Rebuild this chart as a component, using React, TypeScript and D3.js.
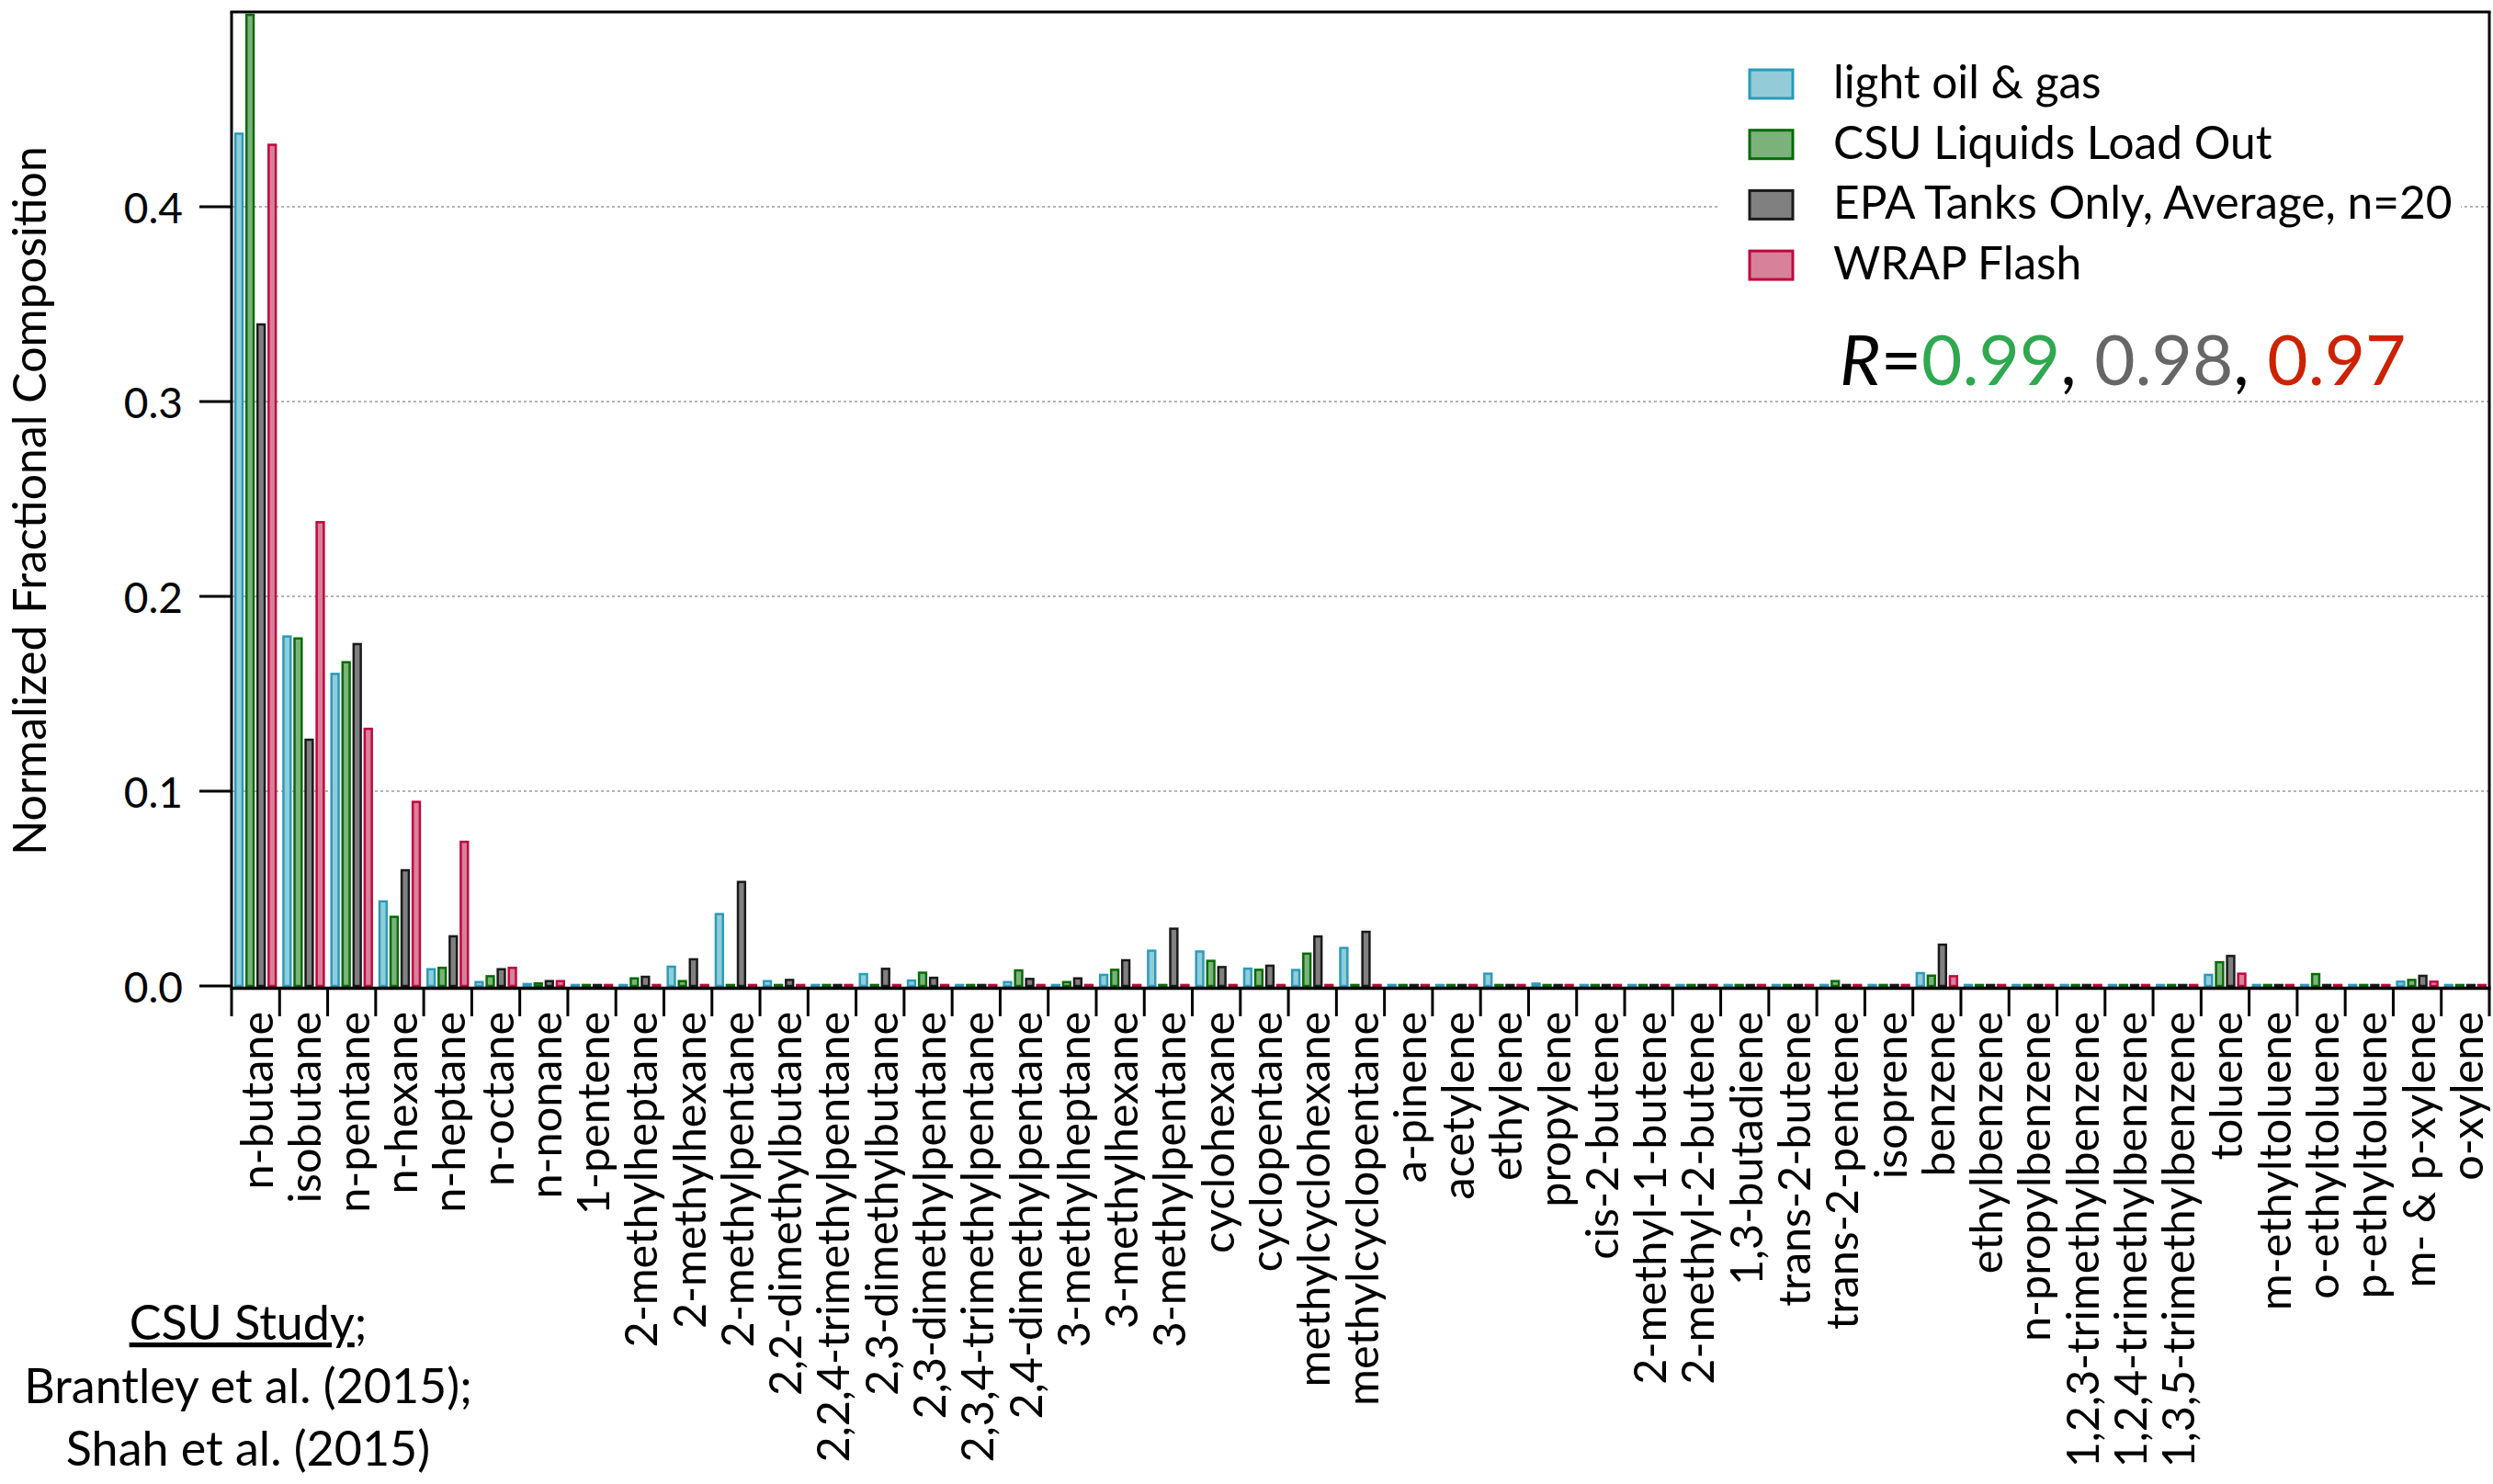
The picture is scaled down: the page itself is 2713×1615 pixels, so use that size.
import React from "react";
import * as d3 from "d3";

const categories = [
  "n-butane", "isobutane", "n-pentane", "n-hexane", "n-heptane", "n-octane", "n-nonane",
  "1-pentene", "2-methylheptane", "2-methylhexane", "2-methylpentane", "2,2-dimethylbutane",
  "2,2,4-trimethylpentane", "2,3-dimethylbutane", "2,3-dimethylpentane", "2,3,4-trimethylpentane",
  "2,4-dimethylpentane", "3-methylheptane", "3-methylhexane", "3-methylpentane", "cyclohexane",
  "cyclopentane", "methylcyclohexane", "methylcyclopentane", "a-pinene", "acetylene", "ethylene",
  "propylene", "cis-2-butene", "2-methyl-1-butene", "2-methyl-2-butene", "1,3-butadiene",
  "trans-2-butene", "trans-2-pentene", "isoprene", "benzene", "ethylbenzene", "n-propylbenzene",
  "1,2,3-trimethylbenzene", "1,2,4-trimethylbenzene", "1,3,5-trimethylbenzene", "toluene",
  "m-ethyltoluene", "o-ethyltoluene", "p-ethyltoluene", "m- & p-xylene", "o-xylene",
];

const lightOilGas = [
  0.4375, 0.1794, 0.1602, 0.0434, 0.0086, 0.002, 0.001,
  0.0005, 0.0005, 0.0099, 0.0369, 0.0025,
  0.0005, 0.0061, 0.0028, 0.0005,
  0.002, 0.0005, 0.0057, 0.0181, 0.0177,
  0.0089, 0.0082, 0.0195, 0.0005, 0.0005, 0.0063,
  0.0012, 0.0005, 0.0005, 0.0005, 0.0005,
  0.0005, 0.0005, 0.0005, 0.0066, 0.0005, 0.0005,
  0.0005, 0.0005, 0.0005, 0.0057,
  0.0005, 0.0005, 0.0005, 0.0022, 0.0005,
];

const csuLoadOut = [
  0.4985, 0.1784, 0.1662, 0.0355, 0.0093, 0.005, 0.0013,
  0.0005, 0.0039, 0.0025, 0.0005, 0.0005,
  0.0005, 0.0005, 0.0068, 0.0005,
  0.008, 0.002, 0.0083, 0.0005, 0.0129,
  0.0083, 0.0166, 0.0005, 0.0005, 0.0005, 0.0005,
  0.0005, 0.0005, 0.0005, 0.0005, 0.0005,
  0.0005, 0.0025, 0.0005, 0.0053, 0.0005, 0.0005,
  0.0005, 0.0005, 0.0005, 0.0122,
  0.0005, 0.0061, 0.0005, 0.0031, 0.0005,
];

const epaTanks = [
  0.3396, 0.1264, 0.1755, 0.0594, 0.0255, 0.0086, 0.0025,
  0.0005, 0.0047, 0.0137, 0.0534, 0.0031,
  0.0005, 0.0088, 0.0042, 0.0005,
  0.0036, 0.0039, 0.0132, 0.0294, 0.0097,
  0.0104, 0.0254, 0.0278, 0.0005, 0.0005, 0.0005,
  0.0005, 0.0005, 0.0005, 0.0005, 0.0005,
  0.0005, 0.0005, 0.0005, 0.0212, 0.0005, 0.0005,
  0.0005, 0.0005, 0.0005, 0.0154,
  0.0005, 0.0005, 0.0005, 0.0052, 0.0005,
];

const wrapFlash = [
  0.4318, 0.2381, 0.132, 0.0945, 0.074, 0.0093, 0.0025,
  0.0005, 0.0005, 0.0005, 0.0005, 0.0005,
  0.0005, 0.0005, 0.0005, 0.0005,
  0.0005, 0.0005, 0.0005, 0.0005, 0.0005,
  0.0005, 0.0005, 0.0005, 0.0005, 0.0005, 0.0005,
  0.0005, 0.0005, 0.0005, 0.0005, 0.0005,
  0.0005, 0.0005, 0.0005, 0.005, 0.0005, 0.0005,
  0.0005, 0.0005, 0.0005, 0.0063,
  0.0005, 0.0005, 0.0005, 0.0022, 0.0005,
];

const seriesNames = [
  "light oil & gas",
  "CSU Liquids Load Out",
  "EPA Tanks Only, Average, n=20",
  "WRAP Flash",
];
const seriesValues = [lightOilGas, csuLoadOut, epaTanks, wrapFlash];
const seriesFill = ["#93cbd9", "#7bb27b", "#808080", "#d8819b"];
const seriesStroke = ["#2a9bbb", "#066b06", "#1a1a1a", "#c1063f"];

const yTicks = [0, 0.1, 0.2, 0.3, 0.4];
const gridTicks = [0.1, 0.2, 0.3, 0.4];

const W = 2713;
const H = 1615;
const FONT = "Lato, 'Open Sans', sans-serif";

export default function App() {
  const left = 252, right = 2709, top = 13, bottom = 1073;
  const x0 = d3.scaleBand<string>().domain(categories).range([left, right]).padding(0);
  const x1 = d3
    .scaleBand<string>()
    .domain(seriesNames)
    .range([0, x0.bandwidth()])
    .paddingInner(0.145)
    .paddingOuter(0.243);
  const y = d3.scaleLinear().domain([0, 0.5]).range([bottom, top]);
  const fmt = d3.format(".1f");
  const sw = 2.5;
  const bw = x1.bandwidth();
  const axisY = bottom + 2.5;

  const boundaries = d3.range(categories.length + 1).map((k) => left + k * x0.step());

  return (
    <svg
      width={W}
      height={H}
      style={{ position: "absolute", left: 0, top: 0, display: "block", background: "#fff" }}
      fontFamily={FONT}
    >
      <rect x={0} y={0} width={W} height={H} fill="#fff" />
      {/* grid */}
      {gridTicks.map((t) => (
        <line
          key={t}
          x1={left}
          x2={right}
          y1={y(t)}
          y2={y(t)}
          stroke="#9a9a9a"
          strokeWidth={1.6}
          strokeDasharray="3,3"
        />
      ))}
      {/* legend background */}
      <rect x={1870} y={50} width={808} height={290} fill="#fff" />
      {/* bars */}
      {categories.map((c, i) => (
        <g key={c} transform={`translate(${x0(c)},0)`}>
          {seriesNames.map((s, j) => {
            const v = seriesValues[j][i];
            const yt = y(Math.max(v, 0));
            const yb = y(0);
            return (
              <rect
                key={s}
                x={(x1(s) as number) + sw / 2}
                y={yt}
                width={bw - sw}
                height={Math.max(yb - yt, 0.5)}
                fill={seriesFill[j]}
                stroke={seriesStroke[j]}
                strokeWidth={sw}
              />
            );
          })}
        </g>
      ))}
      {/* frame */}
      <line x1={left - 1.5} x2={right + 1.5} y1={top} y2={top} stroke="#000" strokeWidth={3} />
      <line x1={left} x2={left} y1={top} y2={axisY} stroke="#000" strokeWidth={3} />
      <line x1={right} x2={right} y1={top} y2={axisY} stroke="#000" strokeWidth={3} />
      <line x1={left - 1.5} x2={right + 1.5} y1={axisY} y2={axisY} stroke="#000" strokeWidth={3.5} />
      {/* y ticks */}
      {yTicks.map((t) => (
        <g key={t}>
          <line x1={217} x2={left} y1={y(t)} y2={y(t)} stroke="#000" strokeWidth={3} />
          <text x={199} y={y(t)} textAnchor="end" dominantBaseline="central" fontSize={46} fill="#000">
            {fmt(t)}
          </text>
        </g>
      ))}
      {/* x ticks */}
      {boundaries.map((bx, k) => (
        <line key={k} x1={bx} x2={bx} y1={axisY} y2={1106} stroke="#000" strokeWidth={3} />
      ))}
      {categories.map((c) => {
        const cx = (x0(c) as number) + x0.bandwidth() / 2;
        return (
          <text
            key={c}
            transform={`translate(${cx},1101) rotate(-90)`}
            textAnchor="end"
            dominantBaseline="central"
            fontSize={48.5}
            fill="#000"
          >
            {c}
          </text>
        );
      })}
      {/* y title */}
      <text transform="translate(50,545) rotate(-90)" textAnchor="middle" fontSize={50} fill="#000">
        Normalized Fractional Composition
      </text>
      {/* legend */}
      {seriesNames.map((s, j) => {
        const cy = 92 + j * 65.7;
        return (
          <g key={s}>
            <rect x={1904} y={cy - 16} width={47} height={31} fill={seriesFill[j]} stroke={seriesStroke[j]} strokeWidth={3} />
            <text x={1995} y={cy + 15} fontSize={49.6} fill="#000">
              {s}
            </text>
          </g>
        );
      })}
      <text x={2002} y={419} fontSize={76.5}>
        <tspan fontStyle="italic" fill="#000">R</tspan>
        <tspan fill="#000">=</tspan>
        <tspan fill="#2fa84f">0.99</tspan>
        <tspan fill="#000">, </tspan>
        <tspan fill="#666666">0.98</tspan>
        <tspan fill="#000">, </tspan>
        <tspan fill="#cc2200">0.97</tspan>
      </text>
      {/* citation */}
      <text x={270} y={1458} textAnchor="middle" fontSize={52} fill="#000">
        <tspan style={{ textDecoration: "underline" }}>CSU Study</tspan>
        <tspan>;</tspan>
      </text>
      <text x={270} y={1527} textAnchor="middle" fontSize={52} fill="#000">
        Brantley et al. (2015);
      </text>
      <text x={270} y={1595} textAnchor="middle" fontSize={52} fill="#000">
        Shah et al. (2015)
      </text>
    </svg>
  );
}
